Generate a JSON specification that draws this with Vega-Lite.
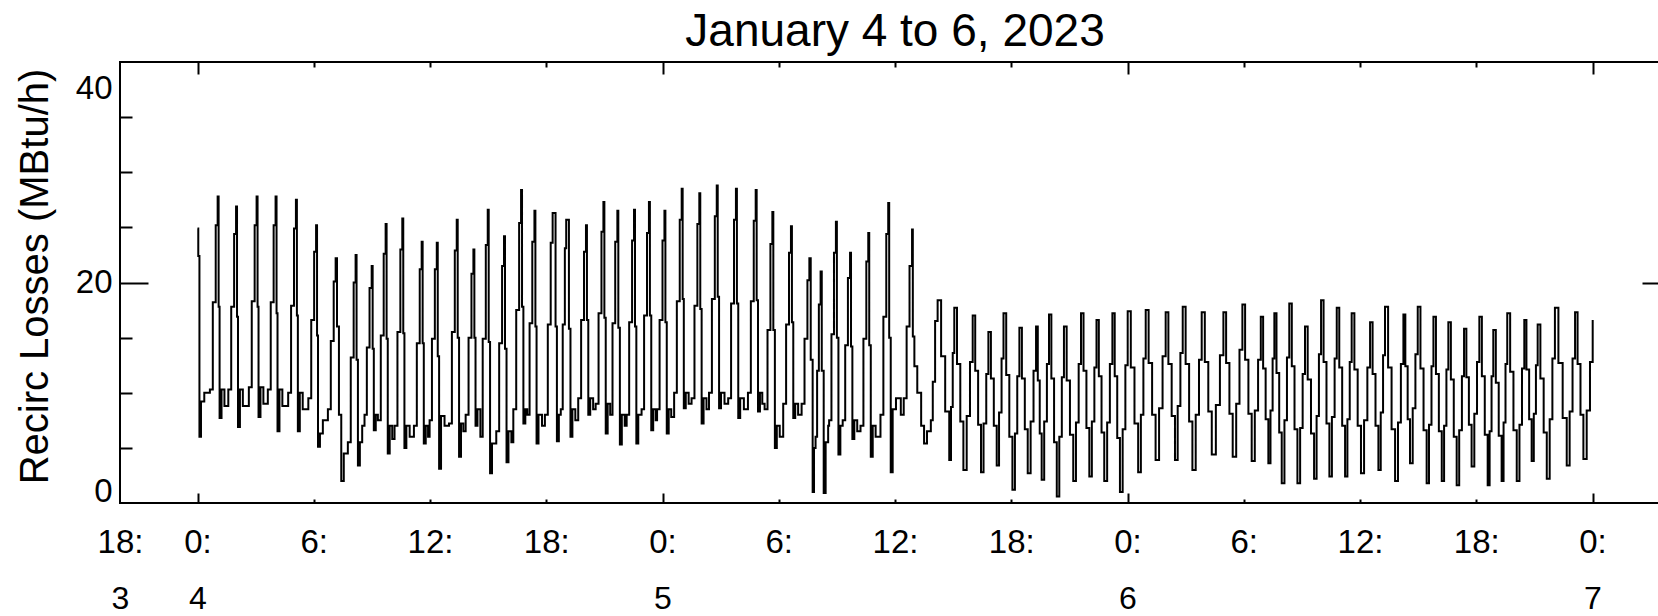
{
"$schema":"https://vega.github.io/schema/vega-lite/v6.json",
"autosize":{"type":"none"},
"padding":{"left":120,"top":62,"right":-12,"bottom":113},
"width":1550,"height":441,
"background":"white",
"config":{"font":"Liberation Sans","view":{"stroke":"black","strokeWidth":2},"axis":{"grid":false,"domain":false,"labelFont":"Liberation Sans","titleFont":"Liberation Sans","labelColor":"black","titleColor":"black","tickColor":"black","tickWidth":2,"labelOverlap":false,"labelBound":false,"labelFlush":false}},
"title":{"text":"January 4 to 6, 2023","fontSize":46,"font":"Liberation Sans","fontWeight":"normal","color":"black","baseline":"alphabetic","frame":"group","anchor":"middle","offset":17,"dy":48},
"data":{"values":[
{"h":0,"v":24.9},{"h":0.04,"v":22.4},{"h":0.1,"v":6.0},{"h":0.18,"v":9.2},{"h":0.35,"v":10.0},
{"h":0.64,"v":10.3},{"h":0.79,"v":18.2},{"h":0.94,"v":25.2},{"h":1.04,"v":27.8},{"h":1.09,"v":17.8},{"h":1.14,"v":7.7},{"h":1.24,"v":10.3},{"h":1.39,"v":8.8},
{"h":1.59,"v":10.3},{"h":1.74,"v":17.8},{"h":1.89,"v":24.4},{"h":1.99,"v":26.9},{"h":2.04,"v":16.9},{"h":2.09,"v":6.9},{"h":2.19,"v":10.3},{"h":2.34,"v":8.8},
{"h":2.65,"v":10.5},{"h":2.8,"v":18.3},{"h":2.95,"v":25.2},{"h":3.05,"v":27.8},{"h":3.1,"v":17.8},{"h":3.15,"v":7.8},{"h":3.25,"v":10.5},{"h":3.4,"v":9.0},
{"h":3.63,"v":10.3},{"h":3.78,"v":18.2},{"h":3.93,"v":25.2},{"h":4.03,"v":27.8},{"h":4.08,"v":17.2},{"h":4.13,"v":6.5},{"h":4.23,"v":10.3},{"h":4.38,"v":8.8},
{"h":4.68,"v":10.0},{"h":4.83,"v":17.9},{"h":4.98,"v":24.9},{"h":5.08,"v":27.5},{"h":5.13,"v":17.0},{"h":5.18,"v":6.5},{"h":5.28,"v":10.0},{"h":5.43,"v":8.5},
{"h":5.72,"v":9.5},{"h":5.87,"v":16.6},{"h":6.02,"v":22.8},{"h":6.12,"v":25.2},{"h":6.17,"v":15.2},{"h":6.22,"v":5.1},{"h":6.32,"v":6.3},{"h":6.47,"v":7.5},
{"h":6.73,"v":8.5},{"h":6.88,"v":14.7},{"h":7.03,"v":20.1},{"h":7.13,"v":22.2},{"h":7.2,"v":16.0},{"h":7.3,"v":8.0},{"h":7.42,"v":2.0},{"h":7.55,"v":4.5},
{"h":7.76,"v":5.5},{"h":7.91,"v":13.2},{"h":8.06,"v":20.0},{"h":8.16,"v":22.5},{"h":8.21,"v":13.0},{"h":8.28,"v":3.4},{"h":8.38,"v":5.5},{"h":8.5,"v":7.0},
{"h":8.62,"v":8.0},{"h":8.74,"v":14.1},{"h":8.88,"v":19.5},{"h":8.99,"v":21.5},{"h":9.04,"v":14.0},{"h":9.1,"v":6.6},{"h":9.2,"v":8.0},
{"h":9.31,"v":7.5},{"h":9.46,"v":15.2},{"h":9.61,"v":22.6},{"h":9.71,"v":25.3},{"h":9.76,"v":14.9},{"h":9.82,"v":4.5},{"h":9.92,"v":7.0},{"h":10.05,"v":5.8},
{"h":10.17,"v":7.0},{"h":10.32,"v":15.5},{"h":10.47,"v":23.0},{"h":10.57,"v":25.8},{"h":10.62,"v":15.4},{"h":10.68,"v":5.0},{"h":10.78,"v":7.0},{"h":10.95,"v":6.0},
{"h":11.17,"v":7.0},{"h":11.32,"v":14.5},{"h":11.47,"v":21.2},{"h":11.57,"v":23.7},{"h":11.62,"v":14.5},{"h":11.68,"v":5.4},{"h":11.78,"v":7.0},{"h":11.9,"v":6.0},
{"h":11.98,"v":7.5},{"h":12.1,"v":14.9},{"h":12.25,"v":21.2},{"h":12.35,"v":23.6},{"h":12.4,"v":13.3},{"h":12.47,"v":3.1},{"h":12.57,"v":7.9},{"h":12.75,"v":7.0},
{"h":12.98,"v":7.2},{"h":13.13,"v":15.5},{"h":13.28,"v":22.9},{"h":13.38,"v":25.7},{"h":13.43,"v":15.0},{"h":13.5,"v":4.2},{"h":13.6,"v":7.2},{"h":13.72,"v":6.5},
{"h":13.84,"v":8.0},{"h":13.99,"v":15.0},{"h":14.14,"v":20.8},{"h":14.24,"v":23.0},{"h":14.29,"v":15.0},{"h":14.35,"v":7.0},{"h":14.45,"v":8.5},
{"h":14.6,"v":6.0},{"h":14.72,"v":14.9},{"h":14.88,"v":23.4},{"h":14.98,"v":26.6},{"h":15.03,"v":14.6},{"h":15.1,"v":2.7},{"h":15.2,"v":5.4},
{"h":15.42,"v":6.5},{"h":15.57,"v":14.5},{"h":15.72,"v":21.5},{"h":15.82,"v":24.2},{"h":15.87,"v":14.0},{"h":15.95,"v":3.7},{"h":16.05,"v":6.5},{"h":16.2,"v":5.5},
{"h":16.3,"v":8.5},{"h":16.45,"v":17.5},{"h":16.6,"v":25.4},{"h":16.7,"v":28.4},{"h":16.75,"v":17.8},{"h":16.82,"v":7.2},{"h":16.92,"v":8.5},
{"h":17.02,"v":8.0},{"h":17.14,"v":16.3},{"h":17.28,"v":23.7},{"h":17.39,"v":26.5},{"h":17.44,"v":16.0},{"h":17.5,"v":5.4},{"h":17.6,"v":8.0},{"h":17.78,"v":7.0},
{"h":17.93,"v":8.0},{"h":18.08,"v":16.2},{"h":18.23,"v":23.6},{"h":18.33,"v":26.3},{"h":18.43,"v":26.3},{"h":18.48,"v":16.0},{"h":18.55,"v":5.6},{"h":18.65,"v":8.0},
{"h":18.75,"v":8.5},{"h":18.85,"v":16.2},{"h":18.96,"v":23.1},{"h":19.03,"v":25.7},{"h":19.12,"v":25.7},{"h":19.17,"v":15.8},{"h":19.25,"v":6.0},{"h":19.35,"v":8.5},{"h":19.5,"v":7.5},
{"h":19.65,"v":9.5},{"h":19.8,"v":16.6},{"h":19.95,"v":22.8},{"h":20.05,"v":25.2},{"h":20.1,"v":16.6},{"h":20.17,"v":8.0},{"h":20.27,"v":9.5},{"h":20.42,"v":8.5},
{"h":20.55,"v":9.0},{"h":20.7,"v":17.2},{"h":20.85,"v":24.6},{"h":20.95,"v":27.3},{"h":21.0,"v":16.8},{"h":21.07,"v":6.3},{"h":21.17,"v":9.0},
{"h":21.3,"v":8.0},{"h":21.42,"v":16.3},{"h":21.56,"v":23.7},{"h":21.67,"v":26.5},{"h":21.72,"v":15.9},{"h":21.8,"v":5.3},{"h":21.9,"v":8.0},{"h":22.05,"v":7.0},
{"h":22.15,"v":8.0},{"h":22.28,"v":16.4},{"h":22.43,"v":23.8},{"h":22.53,"v":26.6},{"h":22.58,"v":16.0},{"h":22.65,"v":5.4},{"h":22.75,"v":8.0},
{"h":22.92,"v":8.5},{"h":23.05,"v":17.0},{"h":23.2,"v":24.5},{"h":23.3,"v":27.3},{"h":23.35,"v":17.0},{"h":23.42,"v":6.6},{"h":23.52,"v":8.5},{"h":23.65,"v":7.5},
{"h":23.72,"v":8.5},{"h":23.85,"v":16.6},{"h":24.0,"v":23.8},{"h":24.1,"v":26.5},{"h":24.15,"v":16.4},{"h":24.22,"v":6.3},{"h":24.32,"v":8.5},{"h":24.45,"v":7.8},
{"h":24.6,"v":10.0},{"h":24.74,"v":18.3},{"h":24.89,"v":25.7},{"h":24.99,"v":28.5},{"h":25.04,"v":18.5},{"h":25.1,"v":8.6},{"h":25.2,"v":10.0},{"h":25.35,"v":9.0},
{"h":25.5,"v":9.5},{"h":25.65,"v":17.9},{"h":25.8,"v":25.3},{"h":25.9,"v":28.1},{"h":25.95,"v":17.6},{"h":26.02,"v":7.2},{"h":26.12,"v":9.5},{"h":26.27,"v":8.5},
{"h":26.4,"v":10.0},{"h":26.55,"v":18.5},{"h":26.7,"v":26.0},{"h":26.8,"v":28.8},{"h":26.85,"v":18.7},{"h":26.92,"v":8.6},{"h":27.02,"v":10.0},{"h":27.2,"v":9.0},
{"h":27.39,"v":9.5},{"h":27.54,"v":18.1},{"h":27.69,"v":25.7},{"h":27.79,"v":28.5},{"h":27.84,"v":18.1},{"h":27.91,"v":7.7},{"h":28.01,"v":9.5},{"h":28.2,"v":8.5},
{"h":28.41,"v":10.0},{"h":28.56,"v":18.3},{"h":28.71,"v":25.6},{"h":28.81,"v":28.4},{"h":28.86,"v":18.4},{"h":28.93,"v":8.3},{"h":29.03,"v":10.0},{"h":29.15,"v":9.0},
{"h":29.27,"v":8.5},{"h":29.42,"v":15.7},{"h":29.57,"v":23.5},{"h":29.67,"v":26.4},{"h":29.72,"v":15.7},{"h":29.8,"v":5.0},{"h":29.9,"v":7.0},{"h":30.05,"v":6.0},
{"h":30.23,"v":9.0},{"h":30.38,"v":16.2},{"h":30.53,"v":22.7},{"h":30.63,"v":25.1},{"h":30.68,"v":16.4},{"h":30.75,"v":7.7},{"h":30.85,"v":9.0},{"h":31.0,"v":8.0},
{"h":31.18,"v":9.0},{"h":31.33,"v":14.9},{"h":31.48,"v":20.2},{"h":31.58,"v":22.2},{"h":31.65,"v":13.0},{"h":31.75,"v":1.0},{"h":31.82,"v":5.0},
{"h":31.9,"v":6.0},{"h":31.98,"v":12.0},{"h":32.07,"v":18.0},{"h":32.16,"v":21.0},{"h":32.22,"v":12.0},{"h":32.32,"v":0.9},{"h":32.42,"v":5.5},{"h":32.55,"v":7.0},
{"h":32.6,"v":7.5},{"h":32.72,"v":15.3},{"h":32.85,"v":22.7},{"h":32.95,"v":25.5},{"h":33.0,"v":15.0},{"h":33.08,"v":4.4},{"h":33.18,"v":7.0},
{"h":33.3,"v":7.5},{"h":33.43,"v":14.3},{"h":33.57,"v":20.4},{"h":33.68,"v":22.7},{"h":33.73,"v":14.2},{"h":33.8,"v":5.8},{"h":33.9,"v":7.5},{"h":34.05,"v":6.5},
{"h":34.22,"v":7.0},{"h":34.37,"v":14.9},{"h":34.52,"v":21.9},{"h":34.62,"v":24.5},{"h":34.67,"v":14.3},{"h":34.75,"v":4.2},{"h":34.85,"v":7.0},{"h":35.0,"v":6.0},
{"h":35.25,"v":8.0},{"h":35.4,"v":16.9},{"h":35.55,"v":24.4},{"h":35.65,"v":27.2},{"h":35.7,"v":15.0},{"h":35.78,"v":2.8},{"h":35.88,"v":8.5},{"h":36.05,"v":9.5},
{"h":36.3,"v":8.0},{"h":36.45,"v":9.5},{"h":36.6,"v":16.0},{"h":36.75,"v":21.5},{"h":36.88,"v":24.8},{"h":36.92,"v":15.1},{"h":37.0,"v":12.4},{"h":37.15,"v":10.0},{"h":37.35,"v":7.0},{"h":37.5,"v":5.4},{"h":37.65,"v":6.5},{"h":37.85,"v":7.5},{"h":37.95,"v":11.0},{"h":38.07,"v":16.5},
{"h":38.2,"v":18.4},{"h":38.38,"v":13.3},{"h":38.59,"v":8.3},{"h":38.8,"v":3.9},{"h":38.89,"v":8.7},{"h":38.98,"v":13.6},{"h":39.06,"v":17.7},{"h":39.2,"v":12.6},{"h":39.37,"v":7.4},{"h":39.53,"v":3.0},{"h":39.7,"v":7.9},{"h":39.87,"v":12.8},{"h":40.01,"v":17.0},{"h":40.14,"v":12.0},{"h":40.29,"v":7.1},{"h":40.44,"v":2.8},{"h":40.57,"v":7.2},{"h":40.71,"v":11.7},{"h":40.82,"v":15.5},{"h":40.95,"v":11.3},{"h":41.1,"v":7.0},{"h":41.25,"v":3.4},{"h":41.37,"v":8.2},{"h":41.5,"v":13.1},{"h":41.6,"v":17.2},{"h":41.74,"v":11.6},{"h":41.9,"v":6.0},{"h":42.06,"v":1.2},{"h":42.19,"v":6.3},{"h":42.31,"v":11.5},{"h":42.42,"v":15.9},{"h":42.55,"v":11.3},{"h":42.7,"v":6.7},{"h":42.85,"v":2.7},{"h":43.0,"v":7.4},{"h":43.15,"v":12.0},{"h":43.28,"v":16.0},{"h":43.37,"v":11.1},{"h":43.47,"v":6.3},{"h":43.57,"v":2.1},{"h":43.7,"v":7.4},{"h":43.84,"v":12.6},{"h":43.95,"v":17.1},{"h":44.07,"v":11.3},{"h":44.21,"v":5.5},{"h":44.35,"v":0.6},{"h":44.48,"v":6.0},{"h":44.61,"v":11.4},{"h":44.72,"v":16.0},{"h":44.86,"v":11.1},{"h":45.03,"v":6.2},{"h":45.2,"v":2.0},{"h":45.34,"v":7.3},{"h":45.48,"v":12.6},{"h":45.6,"v":17.2},{"h":45.73,"v":12.0},{"h":45.88,"v":6.8},{"h":46.03,"v":2.4},{"h":46.16,"v":7.4},{"h":46.29,"v":12.3},{"h":46.4,"v":16.6},{"h":46.52,"v":11.5},{"h":46.66,"v":6.4},{"h":46.8,"v":2.0},{"h":46.95,"v":7.3},{"h":47.09,"v":12.6},{"h":47.22,"v":17.2},{"h":47.34,"v":11.5},{"h":47.47,"v":5.9},{"h":47.61,"v":1.0},{"h":47.75,"v":6.7},{"h":47.89,"v":12.5},
{"h":48.01,"v":17.4},{"h":48.17,"v":12.3},{"h":48.36,"v":7.2},{"h":48.55,"v":2.8},{"h":48.69,"v":8.0},{"h":48.82,"v":13.1},{"h":48.94,"v":17.5},{"h":49.09,"v":12.7},{"h":49.27,"v":8.0},{"h":49.45,"v":3.9},{"h":49.63,"v":8.6},{"h":49.81,"v":13.3},{"h":49.97,"v":17.3},{"h":50.11,"v":12.6},{"h":50.28,"v":7.9},{"h":50.45,"v":3.9},{"h":50.59,"v":8.8},{"h":50.73,"v":13.6},{"h":50.85,"v":17.8},{"h":51.0,"v":12.6},{"h":51.18,"v":7.4},{"h":51.35,"v":3.0},{"h":51.52,"v":8.0},{"h":51.69,"v":13.0},{"h":51.83,"v":17.3},{"h":51.99,"v":12.8},{"h":52.17,"v":8.3},{"h":52.35,"v":4.4},{"h":52.56,"v":8.9},{"h":52.77,"v":13.4},{"h":52.95,"v":17.3},{"h":53.09,"v":12.7},{"h":53.26,"v":8.1},{"h":53.43,"v":4.2},{"h":53.61,"v":9.0},{"h":53.78,"v":13.9},{"h":53.93,"v":18.0},{"h":54.07,"v":13.0},{"h":54.24,"v":8.1},{"h":54.41,"v":3.8},{"h":54.57,"v":8.4},{"h":54.74,"v":13.0},{"h":54.88,"v":16.9},{"h":55.0,"v":12.2},{"h":55.13,"v":7.6},{"h":55.27,"v":3.6},{"h":55.38,"v":8.4},{"h":55.49,"v":13.1},{"h":55.58,"v":17.2},{"h":55.69,"v":11.8},{"h":55.83,"v":6.4},{"h":55.96,"v":1.8},{"h":56.1,"v":7.5},{"h":56.23,"v":13.2},{"h":56.35,"v":18.1},{"h":56.48,"v":12.4},{"h":56.62,"v":6.7},{"h":56.77,"v":1.8},{"h":56.91,"v":6.8},{"h":57.04,"v":11.7},{"h":57.16,"v":16.0},{"h":57.3,"v":11.2},{"h":57.47,"v":6.3},{"h":57.63,"v":2.2},{"h":57.76,"v":7.9},{"h":57.88,"v":13.5},{"h":57.99,"v":18.4},{"h":58.12,"v":12.8},{"h":58.27,"v":7.2},{"h":58.42,"v":2.4},{"h":58.55,"v":7.8},{"h":58.69,"v":13.1},{"h":58.8,"v":17.7},{"h":58.93,"v":12.3},{"h":59.08,"v":7.0},{"h":59.23,"v":2.4},{"h":59.35,"v":7.6},{"h":59.47,"v":12.8},{"h":59.57,"v":17.2},{"h":59.71,"v":12.1},{"h":59.88,"v":7.0},
{"h":60.05,"v":2.7},{"h":60.21,"v":7.5},{"h":60.38,"v":12.3},{"h":60.52,"v":16.4},{"h":60.65,"v":11.7},{"h":60.8,"v":7.0},{"h":60.95,"v":3.0},{"h":61.07,"v":8.2},{"h":61.19,"v":13.4},{"h":61.29,"v":17.8},{"h":61.45,"v":12.3},{"h":61.63,"v":6.7},{"h":61.81,"v":2.0},{"h":61.96,"v":7.3},{"h":62.11,"v":12.6},{"h":62.24,"v":17.1},{"h":62.34,"v":12.4},{"h":62.46,"v":7.6},{"h":62.58,"v":3.6},{"h":62.72,"v":8.6},{"h":62.86,"v":13.5},{"h":62.98,"v":17.8},{"h":63.12,"v":12.2},{"h":63.28,"v":6.6},{"h":63.44,"v":1.8},{"h":63.56,"v":7.1},{"h":63.69,"v":12.4},{"h":63.79,"v":16.9},{"h":63.92,"v":11.7},{"h":64.07,"v":6.5},{"h":64.22,"v":2.0},{"h":64.34,"v":7.0},{"h":64.46,"v":12.1},{"h":64.56,"v":16.4},{"h":64.69,"v":11.2},{"h":64.84,"v":6.0},{"h":64.99,"v":1.6},{"h":65.12,"v":6.6},{"h":65.26,"v":11.5},{"h":65.37,"v":15.8},{"h":65.49,"v":11.4},{"h":65.62,"v":7.1},{"h":65.76,"v":3.3},{"h":65.9,"v":8.1},{"h":66.04,"v":12.8},{"h":66.16,"v":16.9},{"h":66.29,"v":11.5},{"h":66.44,"v":6.2},{"h":66.59,"v":1.6},{"h":66.69,"v":6.5},{"h":66.79,"v":11.5},{"h":66.88,"v":15.7},{"h":67.01,"v":10.9},{"h":67.16,"v":6.1},{"h":67.31,"v":2.0},{"h":67.41,"v":7.3},{"h":67.51,"v":12.6},{"h":67.6,"v":17.2},{"h":67.75,"v":11.9},{"h":67.92,"v":6.6},{"h":68.09,"v":2.0},{"h":68.23,"v":7.1},{"h":68.36,"v":12.2},{"h":68.48,"v":16.6},{"h":68.59,"v":12.1},{"h":68.73,"v":7.6},{"h":68.86,"v":3.8},{"h":68.97,"v":8.1},{"h":69.08,"v":12.5},{"h":69.17,"v":16.2},{"h":69.31,"v":11.3},{"h":69.48,"v":6.4},{"h":69.64,"v":2.2},{"h":69.79,"v":7.6},{"h":69.93,"v":13.1},{"h":70.06,"v":17.7},{"h":70.24,"v":12.7},{"h":70.46,"v":7.7},{"h":70.67,"v":3.4},{"h":70.82,"v":8.3},{"h":70.97,"v":13.1},{"h":71.1,"v":17.3},{"h":71.23,"v":12.6},{"h":71.38,"v":8.0},{"h":71.53,"v":4.0},{"h":71.7,"v":8.4},{"h":71.87,"v":12.8},{"h":72.01,"v":16.6}
]},
"layer":[
{"mark":{"type":"line","color":"black","strokeWidth":2,"interpolate":"step-after"},
 "encoding":{
  "x":{"field":"h","type":"quantitative","scale":{"domain":[-4,76],"nice":false,"zero":false},
       "axis":{"orient":"bottom","values":[-4,0,6,12,18,24,30,36,42,48,54,60,66,72],"labelExpr":"datum.value < 0 ? '18:' : (datum.value % 24) + ':'","ticks":false,"labelPadding":23,"labelFontSize":33,"title":null}},
  "y":{"field":"v","type":"quantitative","scale":{"domain":[0,40],"nice":false,"zero":false},
       "axis":{"orient":"left","values":[20],"ticks":false,"labelPadding":8,"labelFontSize":33,"title":"Recirc Losses (MBtu/h)","titleFontSize":40,"titleFontWeight":"normal","titleX":-65,"titleY":214}}}},
{"mark":{"type":"line","opacity":0},
 "encoding":{
  "x":{"field":"h","type":"quantitative","axis":{"orient":"bottom","values":[-4,0,24,48,72],"labelExpr":"datum.value < 0 ? '3' : '' + (4 + datum.value / 24)","ticks":false,"labelPadding":80,"labelFontSize":32,"title":null}},
  "y":{"field":"v","type":"quantitative","axis":{"orient":"left","values":[0],"ticks":false,"labelPadding":8,"labelFontSize":33,"labelOffset":-12,"title":null}}}},
{"mark":{"type":"line","opacity":0},
 "encoding":{
  "x":{"field":"h","type":"quantitative","axis":{"orient":"bottom","values":[0,24,48,72],"labels":false,"ticks":true,"tickSize":-10,"title":null}},
  "y":{"field":"v","type":"quantitative","axis":{"orient":"left","values":[40],"ticks":false,"labelPadding":8,"labelFontSize":33,"labelOffset":26,"title":null}}}},
{"mark":{"type":"line","opacity":0},
 "encoding":{
  "x":{"field":"h","type":"quantitative","axis":{"orient":"bottom","values":[6,12,18,30,36,42,54,60,66],"labels":false,"ticks":true,"tickSize":-4,"title":null}},
  "y":{"field":"v","type":"quantitative","axis":{"orient":"left","values":[20],"labels":false,"ticks":true,"tickSize":-28,"title":null}}}},
{"mark":{"type":"line","opacity":0},
 "encoding":{
  "x":{"field":"h","type":"quantitative","axis":{"orient":"top","values":[0,24,48,72],"labels":false,"ticks":true,"tickSize":-12,"title":null}},
  "y":{"field":"v","type":"quantitative","axis":{"orient":"left","values":[5,10,15,25,30,35],"labels":false,"ticks":true,"tickSize":-12,"title":null}}}},
{"mark":{"type":"line","opacity":0},
 "encoding":{
  "x":{"field":"h","type":"quantitative","axis":{"orient":"top","values":[6,12,18,30,36,42,54,60,66],"labels":false,"ticks":true,"tickSize":-5,"title":null}},
  "y":{"field":"v","type":"quantitative","axis":{"orient":"right","values":[20],"labels":false,"ticks":true,"tickSize":-28,"title":null}}}},
{"mark":{"type":"line","opacity":0},
 "encoding":{
  "x":{"field":"h","type":"quantitative","axis":null},
  "y":{"field":"v","type":"quantitative","axis":{"orient":"right","values":[5,10,15,25,30,35],"labels":false,"ticks":true,"tickSize":-12,"title":null}}}}
],
"resolve":{"axis":{"x":"independent","y":"independent"}}
}
